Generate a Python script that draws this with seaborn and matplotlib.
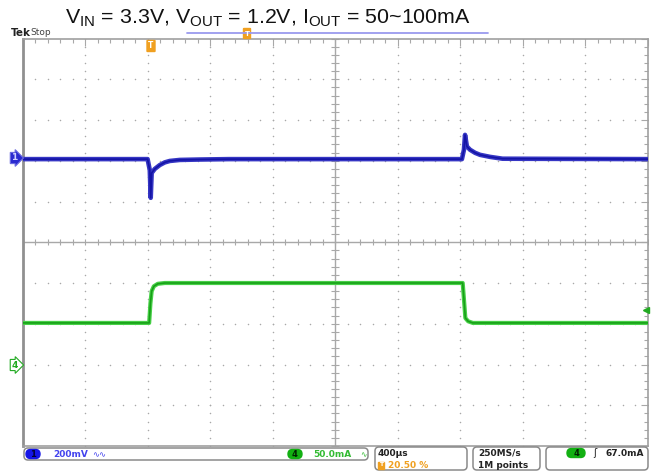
import numpy as np
import matplotlib
matplotlib.use("Agg")
import matplotlib.pyplot as plt
import seaborn as sns
from matplotlib.patches import FancyBboxPatch

# scope settings
ch1_scale = 200.0      # mV/div
ch4_scale = 50.0       # mA/div
time_scale = 0.4       # ms/div
trig_pos = 0.205       # 20.50 %
ch1_offset = 7.07      # div from bottom
ch4_offset = 2.0
trig_level = 67.0      # mA

# CH1: output voltage (AC), ms / mV
t_ch1 = [-0.82, -0.02, -0.006, 0.0, 0.006, 0.026, 0.058, 0.09, 0.122, 0.186, 0.314,
         0.5, 1.99, 2.003, 2.01, 2.022, 2.042, 2.074, 2.106, 2.17, 2.25, 3.18]
v_ch1 = [-6, -6, -60, -196, -74, -54, -35, -22, -15, -10, -8,
         -6, -6, 40, 113, 56, 40, 25, 15, 5, -4, -6]

# CH4: output current, ms / mA
t_ch4 = [-0.82, -0.01, -0.002, 0.006, 0.02, 0.045, 0.09, 1.995, 2.003, 2.012, 2.03,
         2.06, 3.18]
i_ch4 = [51, 51, 75, 90, 96, 99, 100, 100, 80, 57, 53, 51, 51]

sns.set_style("white")
plt.rcParams["font.family"] = ["DejaVu Sans"]
plt.rcParams["mathtext.fontset"] = "custom"
plt.rcParams["mathtext.rm"] = "Liberation Sans"

fig = plt.figure(figsize=(6.52, 4.75), dpi=100)
ax = fig.add_axes([22.5 / 652, 29 / 475, 625.5 / 652, 407.5 / 475])

t0 = -trig_pos * 10 * time_scale
t1 = t0 + 10 * time_scale
ax.set_xlim(t0, t1)
ax.set_ylim(0, 10)

grid_c = "#a8a8a8"
# dotted graticule
for i in range(1, 10):
    if i == 5:
        continue
    xs = t0 + i * time_scale
    ys = np.arange(0, 10.01, 0.2)
    ax.scatter(np.full(len(ys), xs), ys, s=1.2, color=grid_c, lw=0, zorder=1)
    xh = np.arange(t0, t1 + 1e-6, time_scale / 5)
    ax.scatter(xh, np.full(len(xh), i), s=1.2, color=grid_c, lw=0, zorder=1)

# center crosshair with ticks
tc = t0 + 5 * time_scale
ax.axvline(tc, color=grid_c, lw=1, zorder=1)
ax.axhline(5, color=grid_c, lw=1, zorder=1)
xm = np.arange(t0, t1 + 1e-6, time_scale / 5)
ax.plot(xm, np.full(len(xm), 5), ls="none", marker="|", ms=5, mew=0.8, color=grid_c, zorder=1)
ym = np.arange(0, 10.01, 0.2)
ax.plot(np.full(len(ym), tc), ym, ls="none", marker="_", ms=6, mew=0.8, color=grid_c, zorder=1)

ax.set_xticks(np.arange(t0, t1 + 1e-6, time_scale))
ax.set_xticks(xm, minor=True)
ax.set_yticks(np.arange(0, 10.01, 1))
ax.set_yticks(ym, minor=True)
ax.tick_params(which="both", direction="in", top=True, right=True, color=grid_c,
               labelbottom=False, labelleft=False)
ax.tick_params(which="major", length=5, width=0.8)
ax.tick_params(which="minor", length=3, width=0.8)
for s in ax.spines.values():
    s.set_color("#a0a0a0")
    s.set_linewidth(1.2)
ax.spines["left"].set_color("#909090")
ax.spines["left"].set_linewidth(2)

# traces
y1 = ch1_offset + np.array(v_ch1) / ch1_scale
y4 = ch4_offset + np.array(i_ch4) / ch4_scale
sns.lineplot(x=t_ch1, y=y1, ax=ax, color="#3636c4", linewidth=3.3, sort=False,
             estimator=None, zorder=3)
sns.lineplot(x=t_ch1, y=y1, ax=ax, color="#1414a6", linewidth=1.2, sort=False,
             estimator=None, zorder=3)
sns.lineplot(x=t_ch4, y=y4, ax=ax, color="#48d048", linewidth=3.0, sort=False,
             estimator=None, zorder=3)
sns.lineplot(x=t_ch4, y=y4, ax=ax, color="#17a017", linewidth=1.2, sort=False,
             estimator=None, zorder=3)

# trigger level arrow on right edge
ax.plot([t1 - 0.012], [ch4_offset + trig_level / ch4_scale], marker="<", ms=5,
        color="#22aa22", clip_on=False, zorder=4)

# overlay in pixel coords for the scope decorations
ov = fig.add_axes([0, 0, 1, 1], facecolor="none")
ov.set_xlim(0, 652)
ov.set_ylim(475, 0)
ov.axis("off")

ov.text(268, 18, r"V$_{\mathrm{IN}}$ = 3.3V, V$_{\mathrm{OUT}}$ = 1.2V, I$_{\mathrm{OUT}}$ = 50~100mA",
        fontsize=15.4, family="Liberation Sans", ha="center", va="center", color="#111111")
ov.plot([187, 488], [33, 33], color="#9a9aee", lw=1.3)
ov.text(11, 33, "Tek", fontsize=7.5, fontweight="bold", ha="left", va="center", color="#222222")
ov.text(30, 32.5, "Stop", fontsize=6.5, ha="left", va="center", color="#444444")

orange = "#f0a020"
# record view marker and trigger position marker
ov.add_patch(FancyBboxPatch((244, 29), 6, 9, boxstyle="round,pad=0.5", fc=orange, ec=orange))
ov.text(247, 33.5, "T", fontsize=5, color="white", ha="center", va="center", fontweight="bold")
ov.add_patch(FancyBboxPatch((147.5, 41), 7, 10, boxstyle="round,pad=0.5", fc=orange, ec=orange))
ov.text(151, 46, "T", fontsize=5.5, color="white", ha="center", va="center", fontweight="bold")

# channel ground markers
ov.text(14.5, 158, "1", fontsize=6.5, color="#d0d0ff", ha="center", va="center", fontweight="bold",
        bbox=dict(boxstyle="rarrow,pad=0.12", fc="#2a2ad0", ec="#6a6ae0", lw=0.8))
ov.text(14.5, 365, "4", fontsize=6.5, color="#22aa22", ha="center", va="center", fontweight="bold",
        bbox=dict(boxstyle="rarrow,pad=0.12", fc="white", ec="#22aa22", lw=0.8))

# status bar
box_ec = "#8a8a8a"
fs = 6.5
ov.add_patch(FancyBboxPatch((24, 448), 344, 12, boxstyle="round,pad=0,rounding_size=4",
                            fc="white", ec=box_ec, lw=1.1))
for x0, x1 in [(375, 467), (473, 540), (546, 648)]:
    ov.add_patch(FancyBboxPatch((x0, 447), x1 - x0, 23, boxstyle="round,pad=0,rounding_size=4",
                                fc="white", ec=box_ec, lw=1.1))

ov.add_patch(FancyBboxPatch((26, 449.5), 14, 9, boxstyle="round,pad=0,rounding_size=4.5",
                            fc="#1414e6", ec="#1414e6"))
ov.text(33, 454.5, "1", fontsize=6, color="#000033", ha="center", va="center", fontweight="bold")
ov.text(53, 454.5, "200mV", fontsize=fs, color="#4444ee", ha="left", va="center", fontweight="bold")
ov.text(92, 454.5, "\u223f\u223f", fontsize=6, color="#4444ee", ha="left", va="center")

ov.add_patch(FancyBboxPatch((288, 449.5), 14, 9, boxstyle="round,pad=0,rounding_size=4.5",
                            fc="#12b012", ec="#12b012"))
ov.text(295, 454.5, "4", fontsize=6, color="#002200", ha="center", va="center", fontweight="bold")
ov.text(313, 454.5, "50.0mA", fontsize=fs, color="#33bb33", ha="left", va="center", fontweight="bold")
ov.text(360, 454.5, "\u223f", fontsize=5.5, color="#33bb33", ha="left", va="center")

ov.text(378, 453.5, "400\u00b5s", fontsize=fs, color="#222222", ha="left", va="center", fontweight="bold")
ov.add_patch(FancyBboxPatch((378, 461.5), 6, 7, boxstyle="square,pad=0", fc=orange, ec=orange))
ov.text(381, 465, "T", fontsize=4.5, color="white", ha="center", va="center", fontweight="bold")
ov.text(388, 465, "20.50 %", fontsize=fs, color=orange, ha="left", va="center", fontweight="bold")

ov.text(478, 453.5, "250MS/s", fontsize=fs, color="#222222", ha="left", va="center", fontweight="bold")
ov.text(478, 465, "1M points", fontsize=fs, color="#222222", ha="left", va="center", fontweight="bold")

ov.add_patch(FancyBboxPatch((567, 448.5), 18, 9, boxstyle="round,pad=0,rounding_size=4.5",
                            fc="#12b012", ec="#12b012"))
ov.text(576, 453.3, "4", fontsize=6, color="#002200", ha="center", va="center", fontweight="bold")
ov.text(593, 453.5, "\u0283", fontsize=7, color="#222222", ha="left", va="center")
ov.text(606, 453.5, "67.0mA", fontsize=fs, color="#222222", ha="left", va="center", fontweight="bold")

fig.savefig("out.png", dpi=100)
